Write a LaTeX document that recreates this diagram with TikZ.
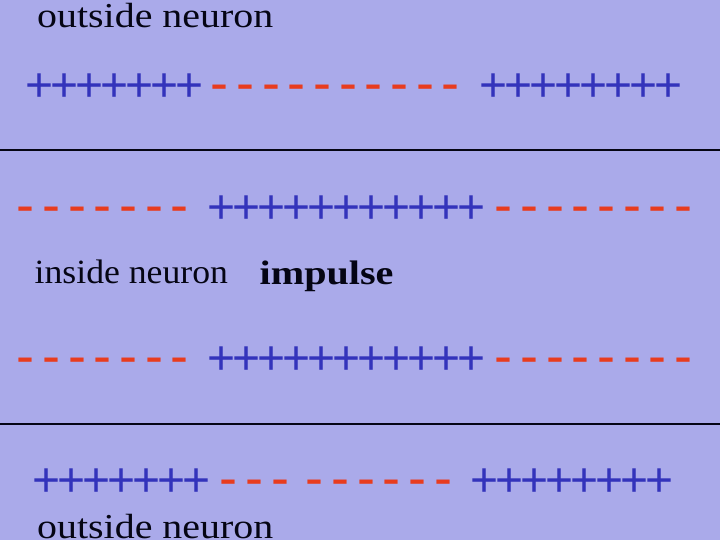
\documentclass[tikz,border=0pt]{standalone}
\usepackage{fontspec}
\setmainfont{Liberation Serif}
\newfontfamily\signfont{Liberation Sans}
\newfontfamily\outfont[FakeStretch=1.14]{Liberation Serif}
\newfontfamily\infont[FakeStretch=1.05]{Liberation Serif}
\newfontfamily\impfont[FakeStretch=1.18]{Liberation Serif}
\definecolor{bgc}{RGB}{170,170,234}
\definecolor{plusc}{RGB}{51,51,187}
\definecolor{minc}{RGB}{232,60,30}
\definecolor{txtc}{RGB}{5,5,20}
\newcommand\PL{+\kern-3.0bp}
\newcommand\MI{-\kern7.7bp}
\newcommand\PP[1]{\foreach \i in {1,...,#1}{\PL}}
\newcommand\MM[1]{\foreach \i in {1,...,#1}{\MI}}
\tikzset{
  plusrun/.style={anchor=base west, inner sep=0pt, text=plusc, font=\signfont\fontsize{48bp}{48bp}\selectfont},
  minrun/.style={anchor=base west, inner sep=0pt, text=minc, font=\signfont\fontsize{54bp}{54bp}\selectfont},
  label/.style={anchor=base west, inner sep=0pt, text=txtc},
  membrane/.style={draw=txtc, line width=2bp}
}
\begin{document}
\begin{tikzpicture}[x=1bp,y=-1bp]
\fill[bgc] (0,0) rectangle (720,540);
\useasboundingbox (0,0) rectangle (720,540);
\clip (0,0) rectangle (720,540);
% labels
\node[label, font=\outfont\fontsize{35bp}{35bp}\selectfont] (out1) at (37,28) {outside neuron};
\node[label, font=\infont\fontsize{34bp}{34bp}\selectfont] (in) at (34.5,284) {inside neuron};
\node[label, font=\impfont\bfseries\fontsize{34bp}{34bp}\selectfont] (imp) at (259.5,285) {impulse};
\node[label, font=\outfont\fontsize{35bp}{35bp}\selectfont] (out2) at (37,538) {outside neuron};
% membranes
\coordinate (m1a) at (0,150); \coordinate (m1b) at (720,150);
\coordinate (m2a) at (0,424); \coordinate (m2b) at (720,424);
\draw[membrane] (m1a) -- (m1b);
\draw[membrane] (m2a) -- (m2b);
% row 1
\node[plusrun] (r1a) at (25.3,102) {\PP{7}};
\node[minrun] (r1b) at (210.6,102) {\MM{10}};
\node[plusrun] (r1c) at (479.3,102) {\PP{8}};
% row 2
\node[minrun] (r2a) at (16.6,223.5) {\MM{7}};
\node[plusrun] (r2b) at (207.3,224) {\PP{11}};
\node[minrun] (r2c) at (494.6,223.5) {\MM{8}};
% row 3
\node[minrun] (r3a) at (16.6,374.3) {\MM{7}};
\node[plusrun] (r3b) at (207.3,374.5) {\PP{11}};
\node[minrun] (r3c) at (494.6,374.3) {\MM{8}};
% row 4
\node[plusrun] (r4a) at (32.3,496.5) {\PP{7}};
\node[minrun] (r4b) at (219.6,496.5) {\MM{3}};
\node[minrun] (r4c) at (305.6,496.5) {\MM{6}};
\node[plusrun] (r4d) at (470.3,496.5) {\PP{8}};
\end{tikzpicture}
\end{document}
